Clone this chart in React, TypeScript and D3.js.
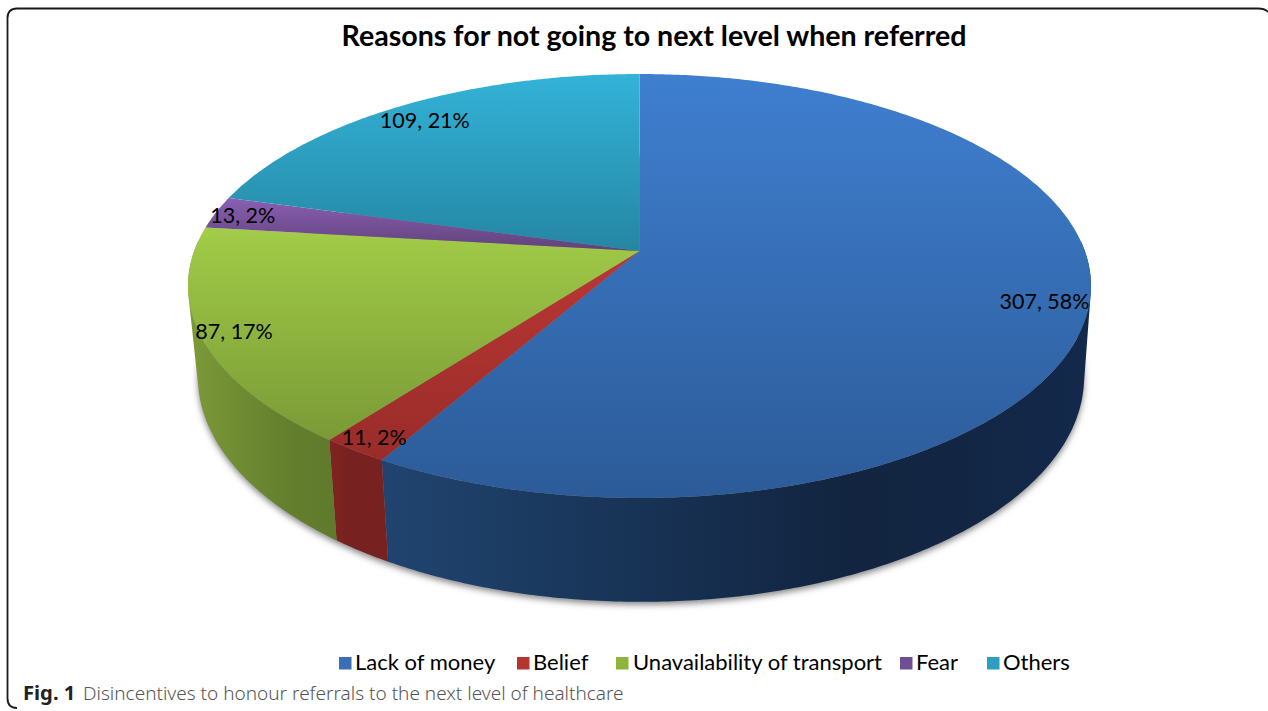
import React from "react";
import * as d3 from "d3";

const categories = ["Lack of money", "Belief", "Unavailability of transport", "Fear", "Others"];
const counts = [307, 11, 87, 13, 109];

// Radial position of each data label on the pie's unit disc.
const labelReach = [0.905, 0.94, 0.93, 0.935, 0.89];

const faceTop = ["#3f7fd0", "#bb3734", "#a2cc48", "#8a5fb3", "#33b3d8"];
const faceBottom = ["#2c5b98", "#992c29", "#7a9a36", "#5f4279", "#2586a3"];
const sideStops = [
  ["#20446f", "#183457", "#12243f", "#13294a"],
  ["#80241f", "#772220", "#772220", "#772220"],
  ["#7a9838", "#6e8b32", "#637e2d", "#5f7a2b"],
  ["#5f4279", "#5f4279", "#5f4279", "#5f4279"],
  ["#2586a3", "#2586a3", "#2586a3", "#2586a3"],
];
const legendSwatch = ["#3a6fb5", "#b5352f", "#8db53c", "#6f4e96", "#2c9ec0"];

// Perspective of the tilted disc: unit-disc (u, v) to page coordinates.
const tilt = 0.1651;
const topFace = { cx: 639.5, scaleX: 445.3, scaleY: 206.2, apexY: 251 };
const baseFace = { cx: 641, scaleX: 437, scaleY: 218.6, apexY: 340 };

type Face = typeof topFace;
type Pt = [number, number];

function project(face: Face, angle: number, r = 1): Pt {
  const u = Math.sin(angle) * r;
  const v = -Math.cos(angle) * r;
  const w = 1 - tilt * v;
  return [face.cx + (face.scaleX * u) / w, face.apexY + (face.scaleY * v) / w];
}

function rimSamples(face: Face, a0: number, a1: number): Pt[] {
  const n = Math.max(2, Math.ceil((a1 - a0) / 0.01));
  return d3.range(n + 1).map((i) => project(face, a0 + ((a1 - a0) * i) / n));
}

const linePath = d3.line<Pt>();

function wedgePath(face: Face, a0: number, a1: number): string {
  const apex: Pt = [face.cx, face.apexY];
  return linePath([apex, ...rimSamples(face, a0, a1)]) + "Z";
}

// Wall between the two rims, built as a strip of quads so that the silhouette
// at the far left and right is filled as well. Every quad is wound the same
// way, otherwise the quads cancel out where the strip folds at the silhouette.
function wallPath(a0: number, a1: number): string | null {
  const from = Math.max(a0, Math.PI / 2 - 0.05);
  const to = Math.min(a1, (3 * Math.PI) / 2 + 0.05);
  if (to <= from) return null;
  const upper = rimSamples(topFace, from, to);
  const lower = rimSamples(baseFace, from, to);
  return d3
    .range(upper.length - 1)
    .map((i) => {
      const quad: Pt[] = [upper[i], upper[i + 1], lower[i + 1], lower[i]];
      return linePath(d3.polygonArea(quad) < 0 ? quad.reverse() : quad) + "Z";
    })
    .join("");
}

export default function App() {
  const total = d3.sum(counts);
  const arcs = d3
    .pie<number>()
    .sort(null)
    .startAngle(0)
    .endAngle(2 * Math.PI)(counts);

  const outlineAngles = d3.range(0, 2 * Math.PI + 0.01, 0.02);
  const basePath = linePath(outlineAngles.map((a) => project(baseFace, a))) + "Z";

  const legendX = [339, 517, 616, 900, 987];
  const legendTextX = [355, 533, 633, 916, 1003];

  return (
    <svg
      width={1268}
      height={711}
      style={{ position: "absolute", left: 0, top: 0, background: "#fff" }}
    >
      <defs>
        <filter id="pie-shadow" x="-5%" y="-5%" width="110%" height="115%">
          <feGaussianBlur stdDeviation="3.2" />
        </filter>
        {arcs.map((_, i) => (
          <linearGradient key={i} id={`face-${i}`} x1={0} x2={0} y1={0} y2={1}>
            <stop offset="0" stopColor={faceTop[i]} />
            <stop offset="1" stopColor={faceBottom[i]} />
          </linearGradient>
        ))}
        {arcs.map((arc, i) => {
          const stops = sideStops[i];
          const xs = [arc.startAngle, arc.endAngle].map((a) => project(topFace, a)[0]);
          return (
            <linearGradient
              key={i}
              id={`wall-${i}`}
              gradientUnits="userSpaceOnUse"
              x1={i === 0 ? 388 : i === 2 ? 197 : Math.min(...xs)}
              x2={i === 0 ? 1085 : i === 2 ? 338 : Math.max(...xs)}
              y1={0}
              y2={0}
            >
              {stops.map((c, k) => (
                <stop key={k} offset={k / (stops.length - 1)} stopColor={c} />
              ))}
            </linearGradient>
          );
        })}
      </defs>

      {/* Page frame */}
      <path
        d="M1268,12 Q1265,8.5 1258,8.5 H17 Q7.5,8.5 7.5,18 V698 Q7.5,708 17,708"
        fill="none"
        stroke="#1a1a1a"
        strokeWidth={1.8}
      />

      <text
        x={654}
        y={46}
        textAnchor="middle"
        fontFamily="Lato, sans-serif"
        fontWeight={700}
        fontSize={28.6}
        fill="#000"
      >
        Reasons for not going to next level when referred
      </text>

      {/* Soft ground shadow */}
      <path
        d={basePath}
        transform="translate(0,3)"
        fill="#555"
        fillOpacity={0.7}
        filter="url(#pie-shadow)"
      />

      {/* Walls */}
      {arcs.map((arc, i) => {
        const d = wallPath(arc.startAngle, arc.endAngle);
        return d ? <path key={i} d={d} fill={`url(#wall-${i})`} /> : null;
      })}

      {/* Top faces */}
      {arcs.map((arc, i) => (
        <path
          key={i}
          d={wedgePath(topFace, arc.startAngle, arc.endAngle)}
          fill={`url(#face-${i})`}
        />
      ))}

      {/* Data labels */}
      {arcs.map((arc, i) => {
        const [x, y] = project(topFace, (arc.startAngle + arc.endAngle) / 2, labelReach[i]);
        return (
          <text
            key={i}
            x={x}
            y={y + 8}
            textAnchor="middle"
            fontFamily="Lato, sans-serif"
            fontSize={21.5}
            fill="#000"
          >
            {`${counts[i]}, ${Math.round((counts[i] / total) * 100)}%`}
          </text>
        );
      })}

      {/* Legend */}
      {categories.map((name, i) => (
        <g key={name}>
          <rect x={legendX[i]} y={657} width={12.5} height={12.5} fill={legendSwatch[i]} />
          <text
            x={legendTextX[i]}
            y={670}
            fontFamily="Lato, sans-serif"
            fontSize={22}
            fill="#000"
          >
            {name}
          </text>
        </g>
      ))}

      {/* Figure caption */}
      <text x={23} y={700} fontFamily="'Noto Sans', sans-serif" fontSize={20.2} fontWeight={700} fill="#222">
        Fig. 1
      </text>
      <text x={83} y={700} fontFamily="'Noto Sans', sans-serif" fontSize={19} fontWeight={300} fill="#555">
        Disincentives to honour referrals to the next level of healthcare
      </text>
    </svg>
  );
}
